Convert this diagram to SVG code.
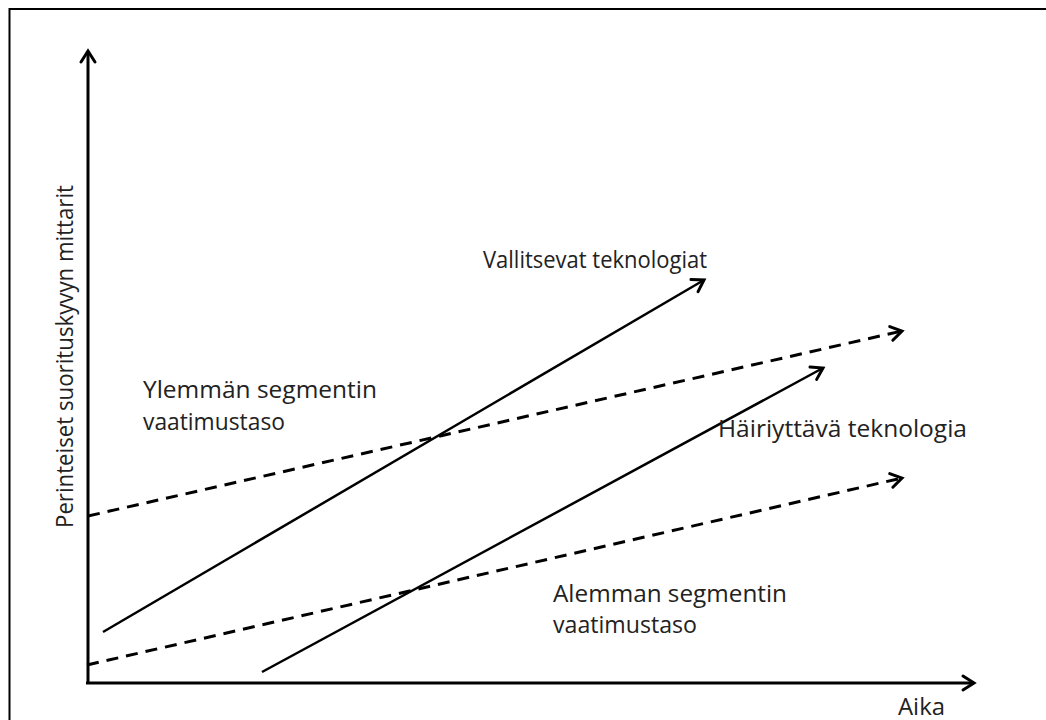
<svg xmlns="http://www.w3.org/2000/svg" width="1046" height="720" viewBox="0 0 1046 720">
  <defs>
    <style>
      .lbl { font-family: "Open Sans", "Liberation Sans", sans-serif; font-size: 23px; fill: #222; }
      .axis { stroke: #000; stroke-width: 3; fill: none; }
      .solid { stroke: #000; stroke-width: 2.5; fill: none; }
      .dash { stroke: #000; stroke-width: 3; fill: none; stroke-dasharray: 12 8; }
    </style>
    <marker id="arr" markerUnits="userSpaceOnUse" markerWidth="20" markerHeight="20" viewBox="-14 -10 18 20" refX="0" refY="0" orient="auto">
      <path d="M-11,-7 L0,0 L-11,7" fill="none" stroke="#000" stroke-width="3" stroke-linejoin="miter" stroke-linecap="round"/>
    </marker>
  </defs>
  <rect x="0" y="0" width="1046" height="720" fill="#fff"/>
  <g id="frame">
    <path d="M1046,9 L9.5,9 L9.5,720" fill="none" stroke="#000" stroke-width="2"/>
  </g>
  <g id="connectors">
    <line id="y-axis" class="axis" x1="88" y1="683" x2="88" y2="51" marker-end="url(#arr)"/>
    <line id="x-axis" class="axis" x1="86" y1="683" x2="974" y2="683" marker-end="url(#arr)"/>
    <line id="vallitsevat" class="solid" x1="103" y1="632" x2="704" y2="280" marker-end="url(#arr)"/>
    <line id="hairiyttava" class="solid" x1="262" y1="672" x2="823" y2="368" marker-end="url(#arr)"/>
    <line id="ylempi" class="dash" x1="88" y1="516" x2="902" y2="331" marker-end="url(#arr)"/>
    <line id="alempi" class="dash" x1="87" y1="665" x2="902" y2="478" marker-end="url(#arr)"/>
  </g>
  <g id="label-y">
    <text class="lbl" transform="translate(73,528) rotate(-90)" textLength="343" lengthAdjust="spacingAndGlyphs">Perinteiset suorituskyvyn mittarit</text>
  </g>
  <g id="label-x">
    <text class="lbl" x="898" y="715" textLength="47" lengthAdjust="spacingAndGlyphs">Aika</text>
  </g>
  <g id="label-vallitsevat">
    <text class="lbl" x="483" y="268" textLength="224" lengthAdjust="spacingAndGlyphs">Vallitsevat teknologiat</text>
  </g>
  <g id="label-ylempi">
    <text class="lbl" x="143" y="398" textLength="234" lengthAdjust="spacingAndGlyphs">Ylemmän segmentin</text>
    <text class="lbl" x="143" y="430" textLength="142" lengthAdjust="spacingAndGlyphs">vaatimustaso</text>
  </g>
  <g id="label-hairiyttava">
    <text class="lbl" x="718" y="437" textLength="249" lengthAdjust="spacingAndGlyphs">Häiriyttävä teknologia</text>
  </g>
  <g id="label-alempi">
    <text class="lbl" x="553" y="602" textLength="234" lengthAdjust="spacingAndGlyphs">Alemman segmentin</text>
    <text class="lbl" x="553" y="633" textLength="144" lengthAdjust="spacingAndGlyphs">vaatimustaso</text>
  </g>
</svg>
